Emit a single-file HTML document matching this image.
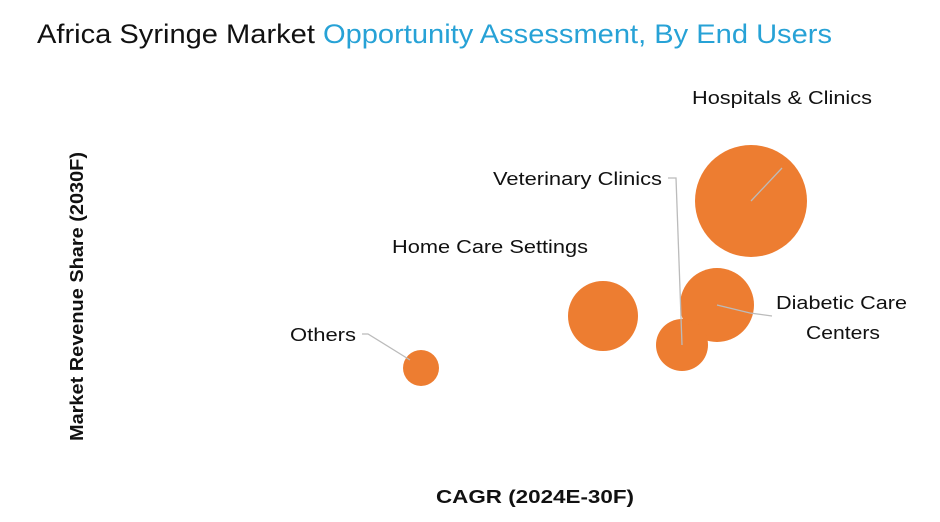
<!DOCTYPE html>
<html><head><style>
body{margin:0;background:#fff;}
svg{display:block;font-family:"Liberation Sans",sans-serif;}
</style></head><body>
<svg width="940" height="522" viewBox="0 0 940 522">
<text x="37" y="43" font-size="27" fill="#111" textLength="795" lengthAdjust="spacingAndGlyphs">Africa Syringe Market <tspan fill="#27a2d6">Opportunity Assessment, By End Users</tspan></text>
<g fill="#ed7d31">
<circle cx="751" cy="201" r="56"/>
<circle cx="717" cy="305" r="37"/>
<circle cx="682" cy="345" r="26"/>
<circle cx="603" cy="316" r="35"/>
<circle cx="421" cy="368" r="18"/>
</g>
<g stroke="#bbb" stroke-width="1.3" fill="none">
<line x1="751" y1="201" x2="782" y2="168"/>
<polyline points="668,178 676,178 682,345"/>
<polyline points="717,305 750,313 772,316"/>
<polyline points="362,334 368,334 410,360"/>
</g>
<g font-size="18" fill="#111" lengthAdjust="spacingAndGlyphs">
<text x="692" y="104" textLength="180" lengthAdjust="spacingAndGlyphs">Hospitals &amp; Clinics</text>
<text x="493" y="185" textLength="169" lengthAdjust="spacingAndGlyphs">Veterinary Clinics</text>
<text x="392" y="253" textLength="196" lengthAdjust="spacingAndGlyphs">Home Care Settings</text>
<text x="776" y="309" textLength="131" lengthAdjust="spacingAndGlyphs">Diabetic Care</text>
<text x="806" y="339" textLength="74" lengthAdjust="spacingAndGlyphs">Centers</text>
<text x="290" y="341" textLength="66" lengthAdjust="spacingAndGlyphs">Others</text>
</g>
<text x="436" y="503" font-size="18" font-weight="bold" fill="#111" textLength="198" lengthAdjust="spacingAndGlyphs">CAGR (2024E-30F)</text>
<text transform="translate(83,441) rotate(-90)" font-size="18" font-weight="bold" fill="#111" textLength="289" lengthAdjust="spacingAndGlyphs">Market Revenue Share (2030F)</text>
</svg>
</body></html>
